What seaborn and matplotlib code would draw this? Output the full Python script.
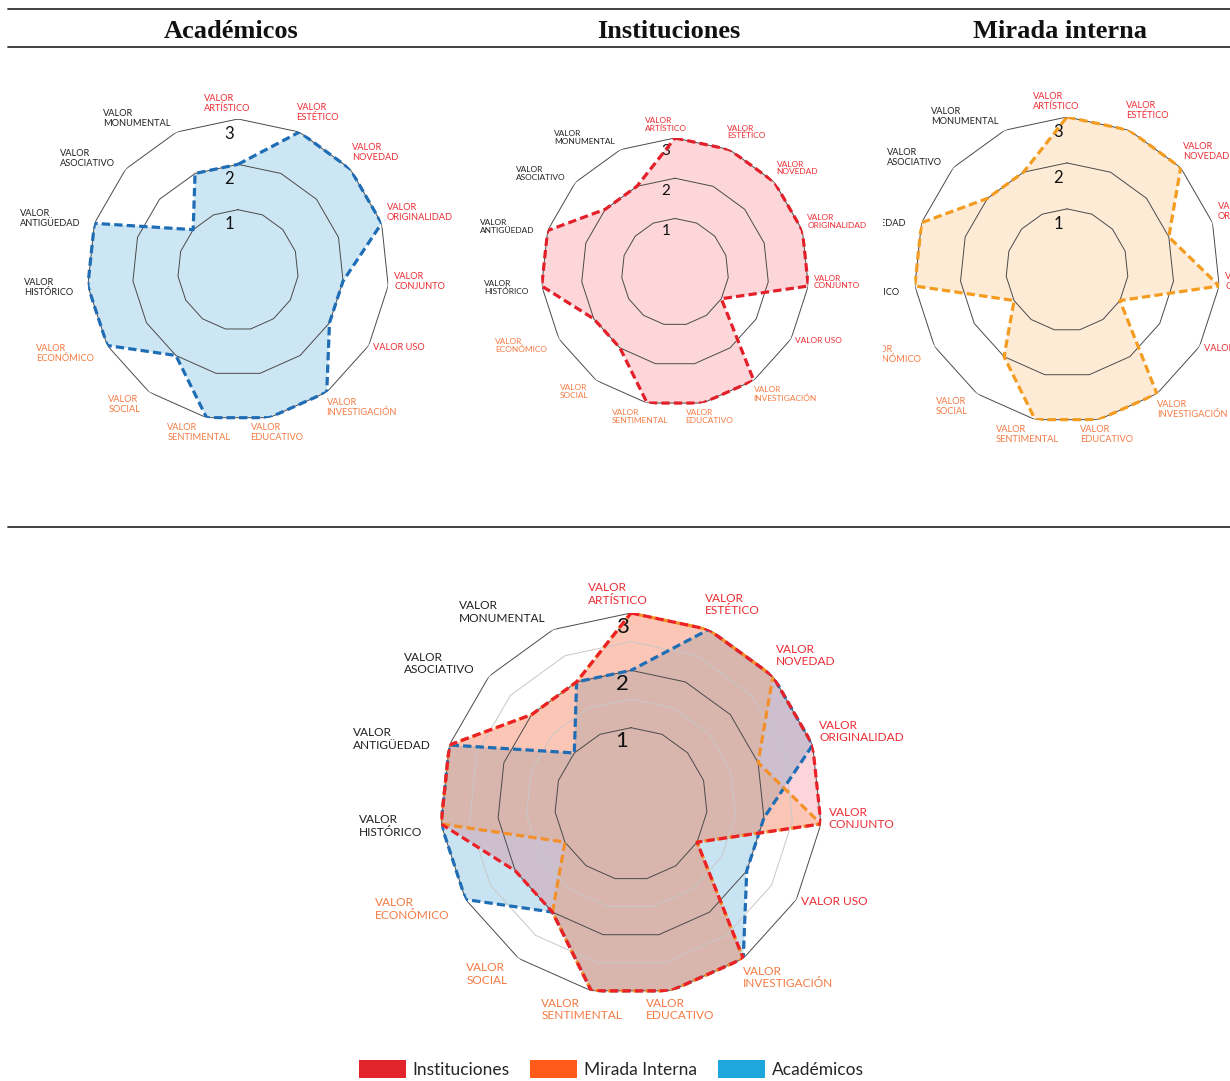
"""
Radar charts: valoración del patrimonio según Académicos, Instituciones y Mirada interna,
plus the combined chart underneath.
"""

import numpy as np
import matplotlib
matplotlib.use('Agg')
import matplotlib.pyplot as plt
import seaborn as sns
from matplotlib.patches import Patch, Rectangle
from matplotlib.lines import Line2D
from matplotlib.transforms import offset_copy

sns.set_theme(style='white')
plt.rcParams['font.family'] = ['Lato', 'DejaVu Sans']
plt.rcParams['lines.scale_dashes'] = False

# ---- data -------------------------------------------------------------
VALORES = ['VALOR\nARTÍSTICO', 'VALOR\nESTÉTICO', 'VALOR\nNOVEDAD', 'VALOR\nORIGINALIDAD',
           'VALOR\nCONJUNTO', 'VALOR USO', 'VALOR\nINVESTIGACIÓN', 'VALOR\nEDUCATIVO',
           'VALOR\nSENTIMENTAL', 'VALOR\nSOCIAL', 'VALOR\nECONÓMICO', 'VALOR\nHISTÓRICO',
           'VALOR\nANTIGÜEDAD', 'VALOR\nASOCIATIVO', 'VALOR\nMONUMENTAL']
GRUPO = ['rojo'] * 6 + ['naranja'] * 5 + ['negro'] * 4

ACADEMICOS = [2, 3, 3, 3, 2, 2, 3, 3, 3, 2, 3, 3, 3, 1, 2]
INSTITUCIONES = [3, 3, 3, 3, 3, 1, 3, 3, 3, 2, 2, 3, 3, 2, 2]
MIRADA_INTERNA = [3, 3, 3, 2, 3, 1, 3, 3, 3, 2, 1, 3, 3, 2, 2]

NIVELES = [1, 2, 3]
NIVELES_MEDIOS = [1.5, 2.5]
TITULOS = ['Académicos', 'Instituciones', 'Mirada interna']
LEYENDA = ['Instituciones', 'Mirada Interna', 'Académicos']

# ---- styling ----------------------------------------------------------
COLOR_ETIQUETA = {'rojo': '#ec2c33', 'naranja': '#f47a42', 'negro': '#231f20'}
W, H = 1230, 1081
R0 = 0.33          # the scale starts a bit below zero at the centre
DASH = (6, 3)
LABEL_R = 1.1      # label anchor, as a fraction of the outer ring

theta = np.linspace(0, 2 * np.pi, len(VALORES), endpoint=False)
closed = np.append(theta, theta[0])

fig = plt.figure(figsize=(W / 100, H / 100), dpi=100)


def norm_to_val(n):
    return n * (3 + R0) - R0


def radar(cx, cy, r, series, label_size, num_size, num_gap, half_rings=False, clip_x0=None):
    ax = fig.add_axes([(cx - r) / W, 1 - (cy + r) / H, 2 * r / W, 2 * r / H], projection='polar')
    ax.set_theta_zero_location('N')
    ax.set_theta_direction(-1)
    ax.set_ylim(-R0, 3)
    ax.set_xticks([])
    ax.set_yticks([])
    ax.grid(False)
    ax.spines['polar'].set_visible(False)
    ax.patch.set_visible(False)

    # fills
    for vals, line_c, fill_c, alpha, off in series:
        v = np.append(vals, vals[0])
        ax.fill(closed, v, color=fill_c, alpha=alpha, lw=0, zorder=1)

    # polygon rings
    if half_rings:
        for lv in NIVELES_MEDIOS:
            ax.plot(closed, [lv] * len(closed), color='#c8c8c8', lw=0.7, zorder=2)
    for lv in NIVELES:
        ax.plot(closed, [lv] * len(closed), color='#4a4a4a', lw=0.7, zorder=2)

    # ring numbers
    tr = offset_copy(ax.transData, fig=fig, x=-9, y=0, units='dots')
    for lv in NIVELES:
        ax.text(0, lv - num_gap, str(lv), transform=tr, ha='center', va='center',
                fontsize=num_size, color='#111111', zorder=3)

    # outlines
    for vals, line_c, fill_c, alpha, off in series:
        v = np.append(vals, vals[0])
        sns.lineplot(x=closed, y=v, sort=False, estimator=None, ax=ax, color=line_c,
                     lw=2.3, linestyle=(off, DASH), zorder=4)

    # axis labels
    clip = None
    if clip_x0 is not None:
        clip = Rectangle((clip_x0 / W, 0), 1 - clip_x0 / W, 1, transform=fig.transFigure)
    for th, txt, g in zip(theta, VALORES, GRUPO):
        s, c = np.sin(th), np.cos(th)
        dx, dy = 0.0, 0.0
        if abs(s) < 0.25:
            ha = 'center'
            dx = -0.07 if c > 0 else 0.03 * np.sign(s)
        elif s > 0:
            ha = 'left'
            dx, dy = -0.06, (0.04 if c > -0.5 else -0.02)
        else:
            ha = 'right'
        tr_lab = offset_copy(ax.transData, fig=fig, x=dx * r, y=dy * r, units='dots')
        t = ax.text(th, norm_to_val(LABEL_R), txt, ha=ha, va='center', multialignment='left',
                    fontsize=label_size, color=COLOR_ETIQUETA[g], linespacing=1.15,
                    transform=tr_lab, clip_on=clip is not None)
        if clip is not None:
            t.set_clip_path(clip)
    return ax


# small charts
radar(238, 270, 151, [(ACADEMICOS, '#1f6db5', '#cde6f3', 1.0, 0)], 6.7, 12, 0.32)
radar(675, 272, 134, [(INSTITUCIONES, '#e3202a', '#fcd6d9', 1.0, 0)], 6.0, 11, 0.32)
radar(1067, 270, 153, [(MIRADA_INTERNA, '#f39c1f', '#fdebd6', 1.0, 0)], 6.7, 12, 0.32,
      clip_x0=883)

# combined chart
radar(631, 804, 191,
      [(ACADEMICOS, '#1f6db5', '#2797cf', 0.25, 2),
       (MIRADA_INTERNA, '#f3902a', '#ffaf37', 0.22, 4.5),
       (INSTITUCIONES, '#ec2027', '#eb2d41', 0.20, 0)],
      8.6, 16, 0.24, half_rings=True)

# header rules and titles
for y in [9, 47, 527]:
    fig.add_artist(Line2D([8 / W, 1], [1 - y / H, 1 - y / H], transform=fig.transFigure,
                          color='#333333', lw=1.3))
for x, t in zip([231, 669, 1060], TITULOS):
    fig.text(x / W, 1 - 31 / H, t, ha='center', va='center', fontsize=19,
             fontweight='bold', family='Liberation Serif', color='#111111')

# legend
handles = [Patch(facecolor=c, edgecolor='none') for c in ['#e3232b', '#ff5a1a', '#1ea7dc']]
fig.legend(handles, LEYENDA, loc='center', bbox_to_anchor=(0.497, 0.011), ncol=3,
           frameon=False, fontsize=12.5, handlelength=2.7, handleheight=1.2,
           handletextpad=0.4, columnspacing=1.2)

fig.savefig('out.png', dpi=100)
